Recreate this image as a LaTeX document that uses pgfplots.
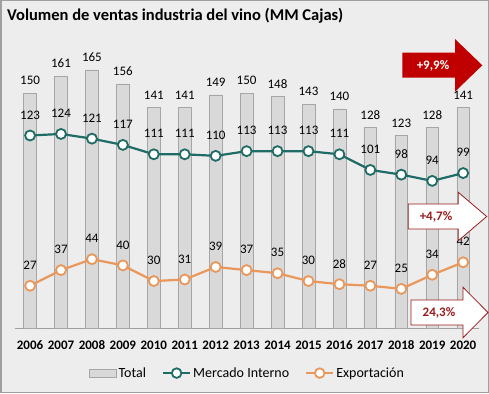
\documentclass[border=0pt]{standalone}
\usepackage{pgfplots}
\pgfplotsset{compat=1.18}
\usepackage{fontspec}
\setmainfont{Carlito}
\definecolor{bg}{HTML}{EDEDED}
\definecolor{barfill}{HTML}{D9D9D9}
\definecolor{bardraw}{HTML}{A6A6A6}
\definecolor{teal1}{HTML}{1F6B66}
\definecolor{orange1}{HTML}{E9975B}
\definecolor{red1}{HTML}{C00000}
\definecolor{darkred}{HTML}{9B1C1C}
\newcommand{\lblfont}{\fontsize{13bp}{15bp}\selectfont}
\begin{document}
\begin{tikzpicture}
\begin{scope}[x=1bp,y=-1bp,shift={(0bp,393bp)}]
\fill[bg] (0,0) rectangle (489,393);
\draw[line width=1.5bp, color=gray!75] (0.75,0.75) rectangle (488.25,392.25);
\node[anchor=west, font=\fontsize{16.5bp}{18bp}\selectfont\bfseries, inner sep=0pt] at (7,15.5) {Volumen de ventas industria del vino (MM Cajas)};
\end{scope}
\begin{axis}[
  at={(14.6bp,65bp)}, anchor=south west,
  scale only axis, width=464bp, height=281.7bp,
  xmin=2005.5, xmax=2020.5, ymin=0, ymax=180,
  axis y line=none, axis x line*=bottom,
  x axis line style={draw=gray!75, line width=0.8bp, -},
  xtick={2006,2007,2008,2009,2010,2011,2012,2013,2014,2015,2016,2017,2018,2019,2020},
  major tick length=0pt,
  xticklabel style={font=\lblfont\bfseries, yshift=-9bp},
  /pgf/number format/assume math mode=true,
  /pgf/number format/1000 sep={},
  clip=false,
  legend style={at={(axis description cs:0.502,-0.16)}, anchor=center, draw=none, fill=none,
    font=\fontsize{14bp}{16bp}\selectfont, inner sep=0pt, /tikz/every even column/.append style={column sep=14bp}},
  legend columns=3,
]
\addplot[ybar, bar width=12.7bp, fill=barfill, draw=bardraw, line width=0.5bp,
  nodes near coords, every node near coord/.append style={font=\lblfont, text=black, anchor=center, yshift=12.5bp},
  legend image code/.code={\draw[fill=barfill,draw=bardraw,line width=0.5bp] (0bp,-4bp) rectangle (27bp,4bp);}]
  coordinates {(2006,150) (2007,161) (2008,165) (2009,156) (2010,141) (2011,141) (2012,149) (2013,150) (2014,148) (2015,143) (2016,140) (2017,128) (2018,123) (2019,128) (2020,141)};
\addlegendentry{Total}
\addplot[teal1, line width=2.2bp, mark=*, mark size=5bp, mark options={fill=white, draw=teal1, line width=1.8bp},
  nodes near coords, every node near coord/.append style={font=\lblfont, text=black, anchor=center, yshift=20.5bp},
  legend image code/.code={\draw[teal1, line width=2.2bp] (0bp,0bp) -- (27bp,0bp); \draw[teal1, fill=white, line width=1.8bp] (13.5bp,0bp) circle (4.8bp);}]
  coordinates {(2006,123) (2007,124) (2008,121) (2009,117) (2010,111) (2011,111) (2012,110) (2013,113) (2014,113) (2015,113) (2016,111) (2017,101) (2018,98) (2019,94) (2020,99)};
\addlegendentry{Mercado Interno}
\addplot[orange1, line width=2.2bp, mark=*, mark size=5bp, mark options={fill=white, draw=orange1, line width=1.8bp},
  nodes near coords, every node near coord/.append style={font=\lblfont, text=black, anchor=center, yshift=20.5bp},
  legend image code/.code={\draw[orange1, line width=2.2bp] (0bp,0bp) -- (27bp,0bp); \draw[orange1, fill=white, line width=1.8bp] (13.5bp,0bp) circle (4.8bp);}]
  coordinates {(2006,27) (2007,37) (2008,44) (2009,40) (2010,30) (2011,31) (2012,39) (2013,37) (2014,35) (2015,30) (2016,28) (2017,27) (2018,25) (2019,34) (2020,42)};
\addlegendentry{Exportación}
\end{axis}
\begin{scope}[x=1bp,y=-1bp,shift={(0bp,393bp)}]
\fill[red1] (402.3,52.7) -- (455,52.7) -- (455,39) -- (482.3,65.3) -- (455,91.7) -- (455,77.7) -- (402.3,77.7) -- cycle;
\node[text=white, font=\lblfont\bfseries] at (433,65.5) {+9,9\%};
\draw[fill=white, draw=darkred, line width=0.8bp] (408.3,204) -- (458.3,204) -- (458.3,192.3) -- (486.7,216.5) -- (458.3,240.7) -- (458.3,229) -- (408.3,229) -- cycle;
\node[text=darkred, font=\lblfont\bfseries] at (436,217) {+4,7\%};
\draw[fill=white, draw=darkred, line width=0.8bp] (411,300) -- (463,300) -- (463,287.3) -- (488,312.5) -- (463,337.7) -- (463,325) -- (411,325) -- cycle;
\node[text=darkred, font=\lblfont\bfseries] at (439,313) {24,3\%};
\end{scope}
\end{tikzpicture}
\end{document}
